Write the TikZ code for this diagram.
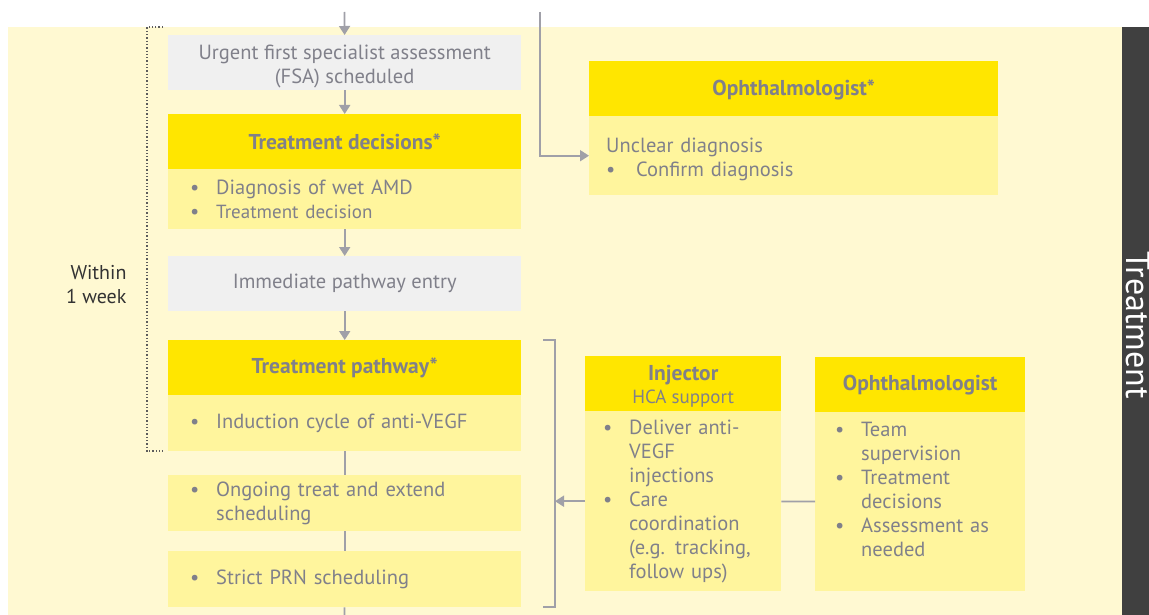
\documentclass[tikz,border=0pt]{standalone}
\usepackage{fontspec}
\setmainfont{PT Sans}
\usepackage{tikz}
\usetikzlibrary{arrows.meta}
\usetikzlibrary{positioning}
\definecolor{bgyel}{HTML}{FFF9D2}
\definecolor{hdryel}{HTML}{FFE600}
\definecolor{bodyyel}{HTML}{FFF59D}
\definecolor{boxgrey}{HTML}{F0F0F0}
\definecolor{txtgrey}{HTML}{80808A}
\definecolor{linegrey}{HTML}{A0A0A8}
\definecolor{bardark}{HTML}{404040}
\definecolor{darktxt}{HTML}{333333}
\newcommand{\blt}{\makebox[26pt][l]{\textbullet}}
\newcommand{\ind}{\hspace*{26pt}}
\tikzset{
  greybox/.style={fill=boxgrey, text=txtgrey, anchor=north west, inner sep=0pt,
    minimum width=353pt, minimum height=55pt, align=center, font=\fontsize{20.5}{24}\selectfont},
  hdrbox/.style={fill=hdryel, text=txtgrey, anchor=north west, inner sep=0pt,
    minimum height=55pt, align=center, font=\bfseries\fontsize{21.5}{22}\selectfont},
  bodybox/.style={fill=bodyyel, text=txtgrey, anchor=north west, inner xsep=22pt, inner ysep=0pt,
    align=left, font=\fontsize{20.5}{24}\selectfont},
  flow/.style={draw=linegrey, line width=1.8pt, -{Triangle[length=9pt,width=11pt]}},
  plainline/.style={draw=linegrey, line width=1.8pt},
}
\begin{document}
\begin{tikzpicture}[x=1pt,y=-1pt]
		\useasboundingbox (0,0) rectangle (1149,615);
		\fill[bgyel] (8,27) rectangle (1122,615);
		\fill[bardark] (1122,27) rectangle (1149,615);
		\node[rotate=-90, text=white, font=\fontsize{34}{36}\selectfont] (phase) at (1138,325) {Treatment};

		\coordinate (intop) at (344.5,12);
		\coordinate (sidetop) at (540,12);
		\coordinate (outbot) at (344.5,615);

		\node[greybox] (fsa) at (168,35) {\rule{0pt}{23pt}Urgent first specialist assessment\\(FSA) scheduled};
		\node[hdrbox, minimum width=353pt] (tdhead) at (168,114) {Treatment decisions*};
		\node[bodybox, text width=309pt, minimum height=60pt] (tdbody) at (168,169) {\blt Diagnosis of wet AMD\\\blt {\fontsize{19}{24}\selectfont Treatment decision}};
		\node[greybox] (entry) at (168,256) {Immediate pathway entry};
		\node[hdrbox, minimum width=353pt] (tphead) at (168,340) {Treatment pathway*};
		\node[bodybox, text width=309pt, minimum height=56pt] (tpbody) at (168,395) {\blt Induction cycle of anti-VEGF};
		\node[bodybox, text width=309pt, minimum height=56pt] (ongoing) at (168,475) {\blt Ongoing treat and extend\\\ind scheduling};
		\node[bodybox, text width=309pt, minimum height=56pt] (prn) at (168,551) {\blt Strict PRN scheduling};

		\node[hdrbox, minimum width=409pt] (ophAhead) at (589,61) {\rule{0pt}{19pt}Ophthalmologist*};
		\node[bodybox, inner xsep=17pt, text width=375pt, minimum height=79pt] (ophAbody) at (589,116) {\rule{0pt}{21pt}Unclear diagnosis\\\makebox[30pt][l]{\textbullet}Confirm diagnosis};

		\node[hdrbox, minimum width=196pt] (injhead) at (585,356) {\rule{0pt}{21pt}Injector\\[1pt]{\mdseries\fontsize{19}{22}\selectfont HCA support}};
		\node[bodybox, inner xsep=18pt, text width=160pt, minimum height=180pt] (injbody) at (585,411) {\blt Deliver anti-\\\ind VEGF\\\ind injections\\\blt Care\\\ind coordination\\\ind (e.g. tracking,\\\ind follow ups)};
		\node[hdrbox, minimum width=210pt] (ophBhead) at (815,357) {Ophthalmologist};
		\node[bodybox, inner xsep=20pt, text width=170pt, minimum height=179pt] (ophBbody) at (815,412) {\blt Team\\\ind supervision\\\blt Treatment\\\ind decisions\\\blt Assessment as\\\ind needed\\\mbox{}};

		\node[anchor=east, align=right, text=darktxt, font=\fontsize{20}{24}\selectfont] (within) at (130,285) {Within\\1 week};

		\draw[flow] (intop) -- (fsa);
		\draw[flow] (fsa) -- (tdhead);
		\draw[flow] (tdbody) -- (entry);
		\draw[flow] (entry) -- (tphead);
		\draw[plainline] (tpbody) -- (ongoing);
		\draw[plainline] (ongoing) -- (prn);
		\draw[plainline] (prn) -- (outbot);
		\draw[flow] (sidetop) |- (ophAbody.west);

		\coordinate (brktop) at (555,340);
		\coordinate (brkbot) at (555,607);
		\draw[plainline, line width=1.5pt] ([xshift=-12pt]brktop) -- (brktop) -- (brkbot) -- ([xshift=-12pt]brkbot);
		\draw[flow] (injbody.west) -- (injbody.west -| brktop);
		\draw[plainline] (injbody) -- (ophBbody);

		\draw[darktxt!80, line width=1.3pt, dotted] (163,27) -- (147,27) -- (147,451) -- (163,451);
		\end{tikzpicture}
\end{document}
